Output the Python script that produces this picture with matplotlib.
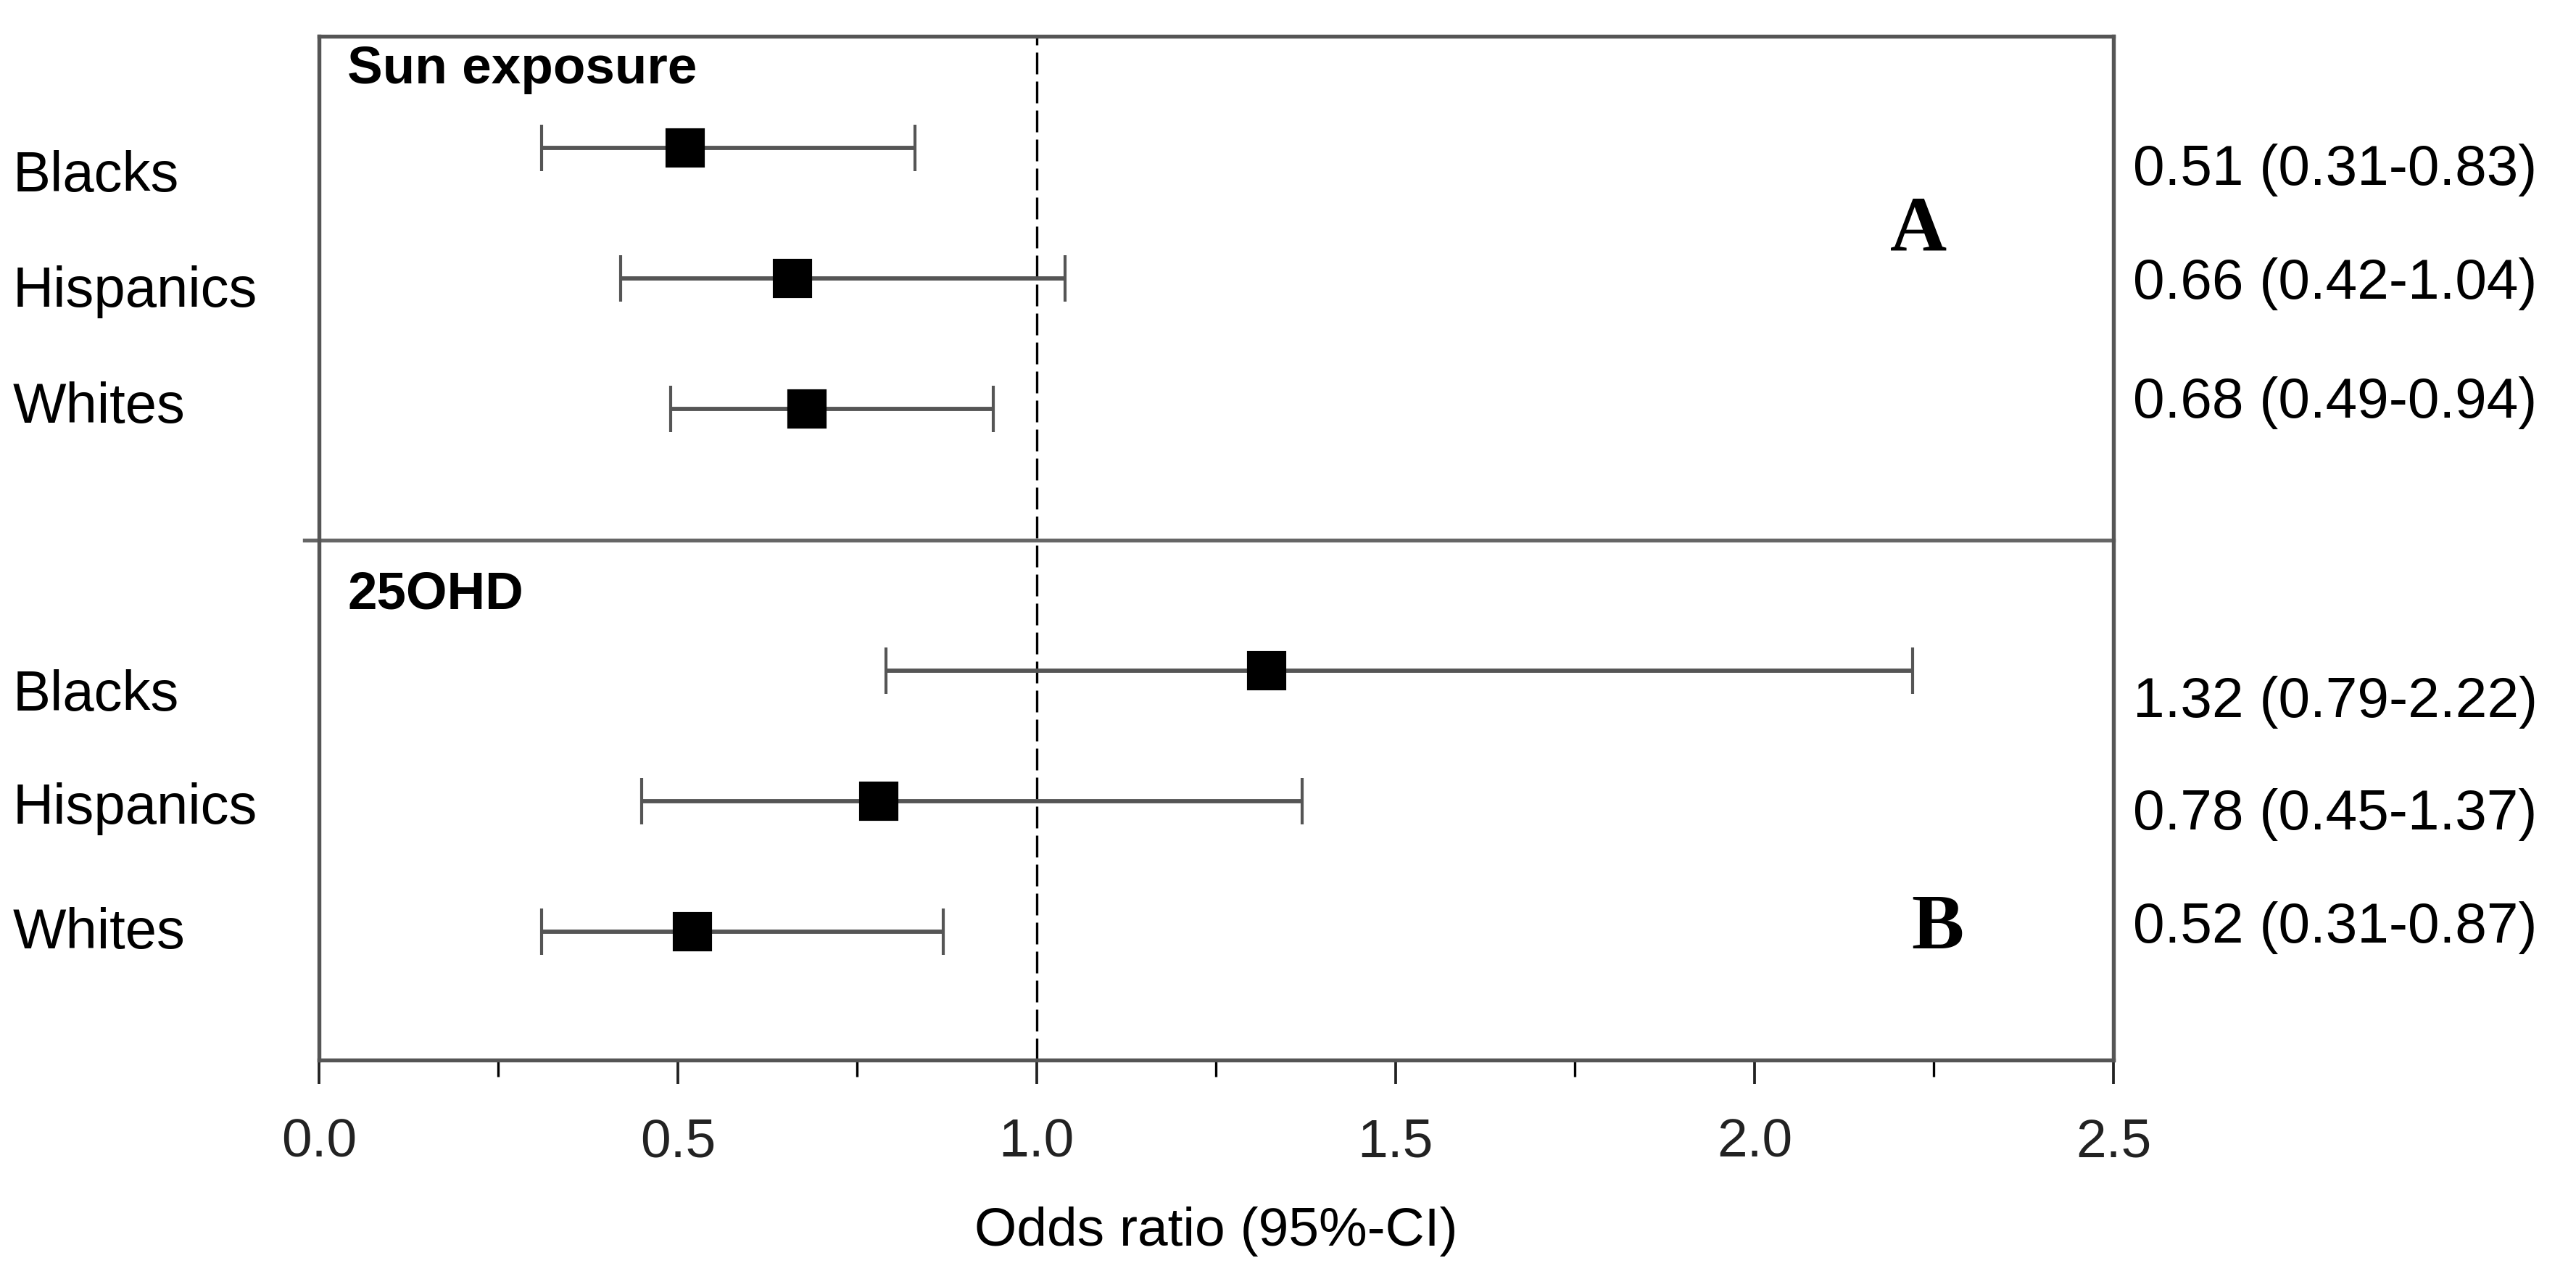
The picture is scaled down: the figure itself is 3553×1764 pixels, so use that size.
import matplotlib
matplotlib.use('Agg')
import matplotlib.pyplot as plt
from matplotlib.ticker import MultipleLocator
from matplotlib.lines import Line2D
from matplotlib.transforms import blended_transform_factory

plt.rcParams['font.family'] = ['Liberation Sans', 'DejaVu Sans']

groups = ['Blacks', 'Hispanics', 'Whites']
sun_or = [0.51, 0.66, 0.68]
sun_lo = [0.31, 0.42, 0.49]
sun_hi = [0.83, 1.04, 0.94]
ohd_or = [1.32, 0.78, 0.52]
ohd_lo = [0.79, 0.45, 0.31]
ohd_hi = [2.22, 1.37, 0.87]

panels = [
    ('Sun exposure', 'A', sun_or, sun_lo, sun_hi),
    ('25OHD', 'B', ohd_or, ohd_lo, ohd_hi),
]

# row layout (rows are in marker units)
panel_start = [0, 4]
left_off = [[0.22, 0.10, -0.01], [0.19, 0.06, 0.01]]
right_off = [[0.17, 0.04, -0.05], [0.24, 0.10, -0.03]]
letter_pos = [(2.228, 0.64), (2.255, 5.98)]
title_y = [-0.6, 3.42]

fig = plt.figure(figsize=(3553 / 300, 1764 / 300), dpi=300)
ax = fig.add_axes([0.1238, 0.1712, 0.8204 - 0.1238, 0.9717 - 0.1712])
side = blended_transform_factory(fig.transFigure, ax.transData)

for p, (title, letter, orr, lo, hi) in enumerate(panels):
    rows = [panel_start[p] + i for i in range(len(groups))]
    xerr = [[o - l for o, l in zip(orr, lo)], [h - o for o, h in zip(orr, hi)]]
    ax.errorbar(orr, rows, xerr=xerr, fmt='s', color='black', ms=12,
                ecolor='#555555', elinewidth=1.4, capsize=7.7, capthick=1.0,
                zorder=3)
    ax.text(0.04, title_y[p], title, fontsize=17.5, fontweight='bold',
            ha='left', va='center')
    ax.text(letter_pos[p][0], letter_pos[p][1], letter, fontsize=26,
            fontweight='bold', family=['Liberation Serif', 'DejaVu Serif'],
            ha='center', va='center')
    for i, g in enumerate(groups):
        ax.text(0.005, rows[i] + left_off[p][i], g, fontsize=18.7,
                ha='left', va='center', transform=side)
        ax.text(0.828, rows[i] + right_off[p][i],
                f'{orr[i]:.2f} ({lo[i]:.2f}-{hi[i]:.2f})', fontsize=18.8,
                ha='left', va='center', transform=side)

ax.axvline(1.0, color='black', lw=0.8, dashes=(9, 3), zorder=1)
sep = Line2D([-0.008, 1.0], [3, 3], color='#666666', lw=1.3,
             transform=ax.get_yaxis_transform(), clip_on=False)
ax.add_line(sep)

ax.set_xlim(0, 2.5)
ax.set_ylim(6.98, -0.855)
ax.set_yticks([])
ax.xaxis.set_minor_locator(MultipleLocator(0.25))
ax.set_xticks([0, 0.5, 1.0, 1.5, 2.0, 2.5])
ax.set_xticklabels(['0.0', '0.5', '1.0', '1.5', '2.0', '2.5'])
ax.tick_params(axis='x', which='major', length=8, width=0.9, labelsize=18, pad=11,
               colors='#222222')
ax.tick_params(axis='x', which='minor', length=5.5, width=0.8)
ax.set_xlabel('Odds ratio (95%-CI)', fontsize=18, labelpad=13)
for s in ax.spines.values():
    s.set_color('#555555')
    s.set_linewidth(1.3)

fig.savefig('out.png', dpi=300)
